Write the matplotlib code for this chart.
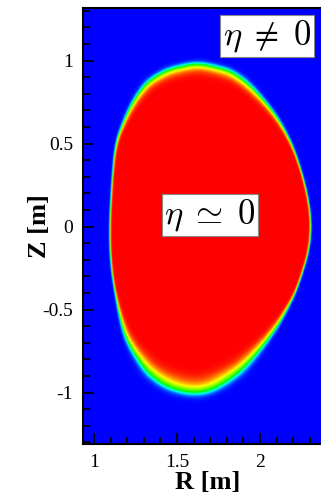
import numpy as np
import matplotlib.pyplot as plt
from matplotlib.colors import LinearSegmentedColormap
from matplotlib.path import Path
from matplotlib.ticker import MultipleLocator

plt.rcParams['font.family'] = ['Liberation Serif', 'DejaVu Serif']
plt.rcParams['mathtext.fontset'] = 'cm'
plt.rcParams['axes.unicode_minus'] = False

# plasma edge (R, Z) in metres, clockwise from the inboard midplane
R_edge = [1.090, 1.108, 1.127, 1.169, 1.230, 1.300, 1.355, 1.440, 1.536, 1.608,
          1.681, 1.861, 2.060, 2.181, 2.250, 2.290, 2.305, 2.290, 2.245, 2.200,
          2.090, 1.920, 1.800, 1.690, 1.578, 1.440, 1.337, 1.277, 1.215, 1.170,
          1.127, 1.096]
Z_edge = [0.021, 0.322, 0.500, 0.620, 0.750, 0.850, 0.895, 0.943, 0.967, 0.979,
          0.973, 0.925, 0.720, 0.521, 0.322, 0.150, 0.000, -0.150, -0.300, -0.425,
          -0.623, -0.835, -0.930, -0.990, -1.003, -0.967, -0.895, -0.822, -0.726, -0.623,
          -0.425, -0.220]

x_ticks = [1, 1.5, 2]
y_ticks = [-1, -0.5, 0, 0.5, 1]
region_labels = [r'$\eta \;\neq\; 0$', r'$\eta \;\simeq\; 0$']


def chaikin(pts, n_iter=4):
    # corner cutting so the closed edge is drawn as a smooth curve
    for _ in range(n_iter):
        nxt = np.roll(pts, -1, axis=0)
        q = 0.75 * pts + 0.25 * nxt
        s = 0.25 * pts + 0.75 * nxt
        pts = np.empty((2 * len(q), 2))
        pts[0::2], pts[1::2] = q, s
    return pts


# grid for the resistivity map
r = np.arange(0.90, 2.48, 0.003)
z = np.arange(-1.34, 1.34, 0.003)
RR, ZZ = np.meshgrid(r, z)
P = np.column_stack([RR.ravel(), ZZ.ravel()])

edge = chaikin(np.column_stack([R_edge, Z_edge]))
closed = np.vstack([edge, edge[:1]])
dist = np.full(len(P), np.inf)
for a, b in zip(closed[:-1], closed[1:]):
    ab = b - a
    t = np.clip(((P - a) @ ab) / (ab @ ab), 0, 1)
    d = np.hypot(*(P - a - t[:, None] * ab).T)
    dist = np.minimum(dist, d)
inside = Path(closed).contains_points(P)
sd = np.where(inside, dist, -dist).reshape(RR.shape)

# edge layer is thin on the sides, thicker at the top and thickest at the bottom
s_top = np.clip((ZZ - 0.3) / 0.6, 0, 1) ** 2
s_bot = np.clip((-ZZ - 0.3) / 0.6, 0, 1) ** 2
w_in = 0.006 + 0.030 * s_top + 0.055 * s_bot
w_out = 0.005 + 0.012 * s_top + 0.020 * s_bot
val = np.where(sd > 0, 0.5 + 0.5 * np.tanh(sd / w_in), 0.5 + 0.5 * np.tanh(sd / w_out))

cmap = LinearSegmentedColormap.from_list(
    'rainbow5', ['#0000ff', '#00ffff', '#00ff00', '#ffff00', '#ff0000'])

fig = plt.figure(figsize=(3.21, 4.93), dpi=100)
ax = fig.add_axes([0.2576, 0.0994, 0.78, 0.8838])
ax.imshow(val, cmap=cmap, vmin=0, vmax=1, origin='lower', interpolation='bilinear',
          extent=[r[0], r[-1], z[0], z[-1]], aspect='auto')
ax.set_xlim(0.932, 2.44)
ax.set_ylim(-1.31, 1.315)

ax.set_xticks(x_ticks)
ax.set_xticklabels([f'{v:g}' for v in x_ticks])
ax.set_yticks(y_ticks)
ax.set_yticklabels([f'{v:g}' for v in y_ticks])
ax.xaxis.set_minor_locator(MultipleLocator(0.1))
ax.yaxis.set_minor_locator(MultipleLocator(0.1))
ax.tick_params(which='both', direction='in', top=False, right=False,
               color='black', width=1.3, labelsize=14)
ax.tick_params(which='major', length=8, pad=7)
ax.tick_params(which='minor', length=5)
for s in ax.spines.values():
    s.set_linewidth(1.5)

ax.set_xlabel('R [m]', fontsize=19, fontweight='bold', labelpad=0)
ax.set_ylabel('Z [m]', fontsize=19, fontweight='bold', labelpad=-6)

box = dict(facecolor='white', edgecolor='#888888', linewidth=0.8, pad=2)
ax.text(2.042, 1.148, region_labels[0], fontsize=25, ha='center', va='center', bbox=box)
ax.text(1.699, 0.069, region_labels[1], fontsize=25, ha='center', va='center', bbox=box)

fig.savefig('out.png', dpi=100)
